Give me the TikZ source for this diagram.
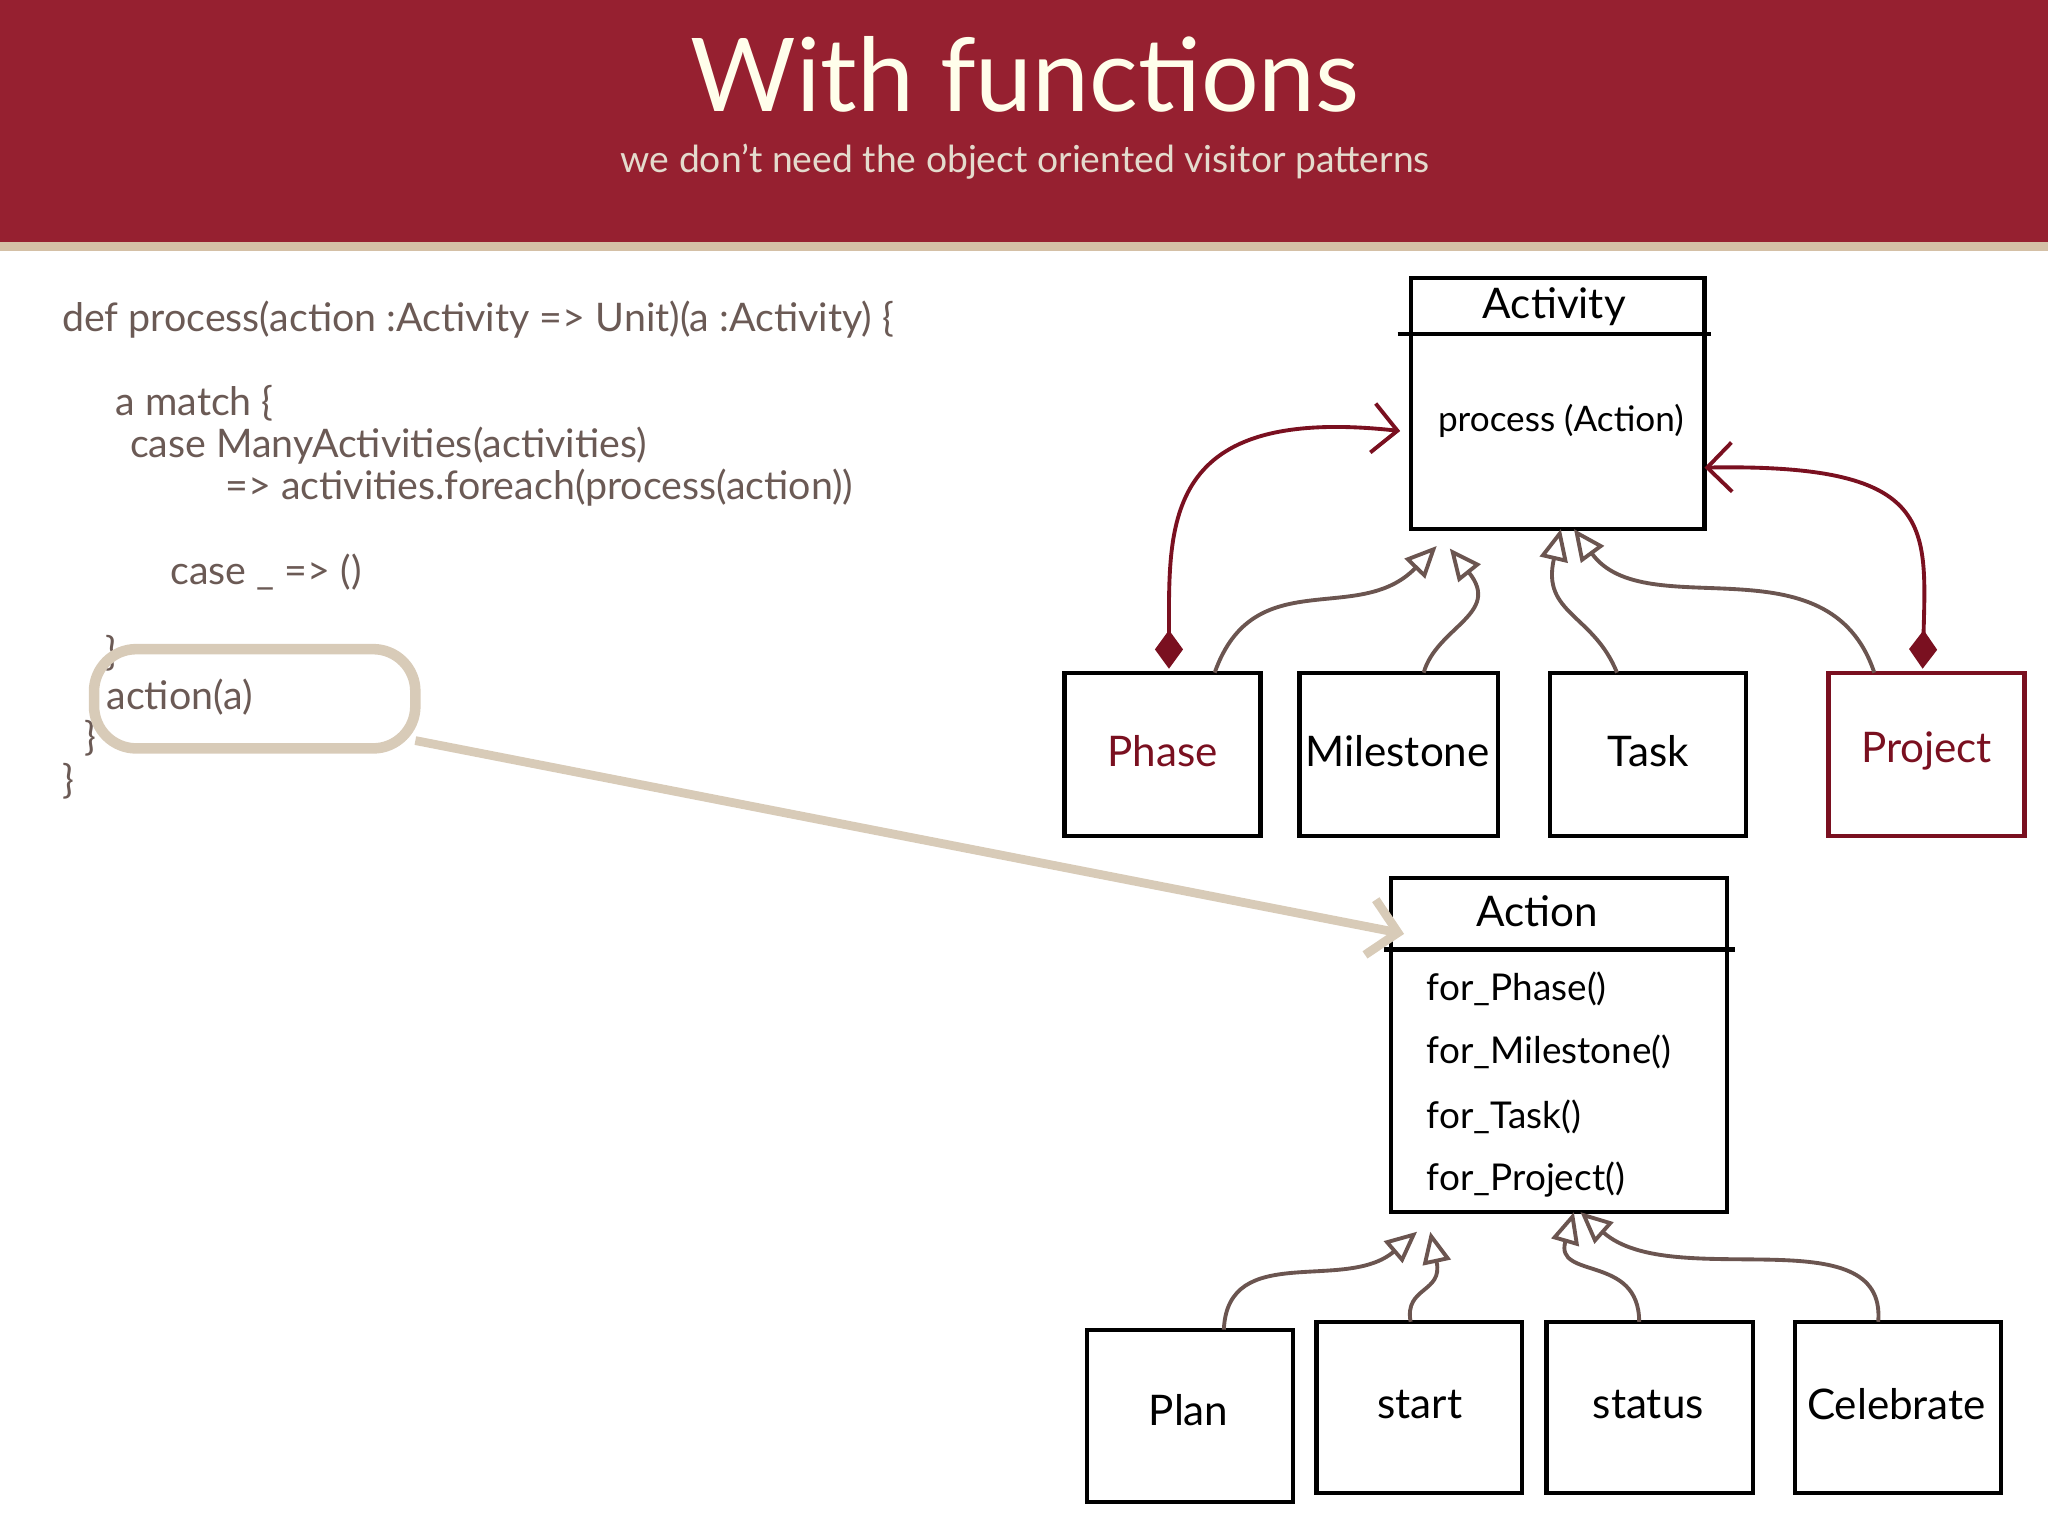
\documentclass[tikz,border=0pt]{standalone}
\usepackage{fontspec}
\setmainfont{Lato}
\usetikzlibrary{arrows.meta}
\definecolor{hdr}{HTML}{962030}
\definecolor{beige}{HTML}{D8CBB8}
\definecolor{code}{HTML}{6B5A55}
\definecolor{conn}{HTML}{6B5550}
\definecolor{dred}{HTML}{7A1020}
\begin{document}
\begin{tikzpicture}[x=0.013061cm,y=-0.013061cm,
 box/.style={draw=black,line width=1.2pt},
 lbl/.style={font=\fontsize{12}{14}\selectfont},
 codet/.style={anchor=west,text=code,font=\fontsize{11.2}{13}\selectfont,inner sep=0},
 inh/.style={draw=conn,line width=1.1pt,-{Triangle[open,length=9pt,width=8pt]}},
 comp/.style={draw=dred,line width=1.1pt,{Diamond[length=11pt,width=8pt]}-{Straight Barb[length=7pt]}}]
\useasboundingbox (0,0) rectangle (1568,1176);
\fill[hdr] (0,0) rectangle (1568,185);
\fill[beige!85!brown] (0,185) rectangle (1568,192);
\node[text=white!92!yellow,font=\fontsize{29}{32}\selectfont] (title) at (785,57) {With functions};
\node[text=beige!70!white,font=\fontsize{10.6}{12}\selectfont] (sub) at (785,124) {we don’t need the object oriented visitor patterns};
% code
\node[codet] (c1) at (47,245) {def process(action :Activity => Unit)(a :Activity) \{};
\node[codet] (c2) at (88,309) {a match \{};
\node[codet] (c3) at (99,341) {case ManyActivities(activities)};
\node[codet] (c4) at (172,373) {=> activities.foreach(process(action))};
\node[codet] (c5) at (130,438) {case \_ => ()};
\node[codet] (c6) at (80,500) {\}};
\node[codet] (c7) at (81,534) {action(a)};
\node[codet] (c8) at (64,565) {\}};
\node[codet] (c9) at (47,598) {\}};
\draw[beige,line width=3pt,rounded corners=12pt] (72,497) rectangle (318,573);
\coordinate (hl) at (318,567);
% Activity
\draw[box] (1080,213) rectangle (1305,405);
\draw[box] (1070,256) -- (1310,256);
\node[lbl] (act) at (1190,235) {Activity};
\node[font=\fontsize{10}{12}\selectfont] (proc) at (1195,322) {process (Action)};
\coordinate (actL) at (1072,330);
\coordinate (actR) at (1305,358);
% row boxes
\draw[box] (815,515) rectangle (965,640); \node[lbl,text=dred] (phase) at (890,575) {Phase};
\draw[box] (995,515) rectangle (1147,640); \node[lbl] (mile) at (1070,575) {Milestone};
\draw[box] (1187,515) rectangle (1337,640); \node[lbl] (task) at (1262,575) {Task};
\draw[box,draw=dred] (1400,515) rectangle (1550,640); \node[lbl,text=dred] (proj) at (1475,575) {Project};
% Action
\draw[box] (1065,672) rectangle (1322,928);
\draw[box] (1060,727) -- (1328,727);
\node[lbl] (action) at (1177,698) {Action};
\foreach \t/\y in {for\_Phase()/757,for\_Milestone()/805,for\_Task()/855,for\_Project()/903}
 \node[anchor=west,font=\fontsize{10.5}{13}\selectfont] at (1083,\y) {\t};
% bottom boxes
\draw[box] (832,1018) rectangle (990,1150); \node[lbl] (plan) at (910,1080) {Plan};
\draw[box] (1008,1012) rectangle (1165,1143); \node[lbl] (start) at (1087,1075) {start};
\draw[box] (1184,1012) rectangle (1342,1143); \node[lbl] (status) at (1262,1075) {status};
\draw[box] (1374,1012) rectangle (1532,1143); \node[lbl] (celeb) at (1452,1075) {Celebrate};
% composition
\draw[comp] (895,512) .. controls (895,400) and (890,310) .. (actL);
\draw[comp] (1472,512) .. controls (1475,400) and (1480,355) .. (actR);
% inheritance
\draw[inh] (930,515) .. controls (960,430) and (1040,480) .. (1100,418);
\draw[inh] (1090,515) .. controls (1100,480) and (1150,470) .. (1110,420);
\draw[inh] (1238,515) .. controls (1220,470) and (1180,470) .. (1195,405);
\draw[inh] (1435,515) .. controls (1400,410) and (1260,480) .. (1205,405);
\draw[inh] (937,1018) .. controls (940,950) and (1030,990) .. (1085,943);
\draw[inh] (1080,1012) .. controls (1075,985) and (1105,990) .. (1095,943);
\draw[inh] (1255,1012) .. controls (1255,960) and (1190,980) .. (1205,928);
\draw[inh] (1438,1012) .. controls (1445,930) and (1280,990) .. (1210,928);
% highlight arrow
\coordinate (actionIn) at (1075,715);
\draw[beige,line width=2.5pt,-{Straight Barb[length=8pt]}] (hl) -- (actionIn);
\end{tikzpicture}
\end{document}
